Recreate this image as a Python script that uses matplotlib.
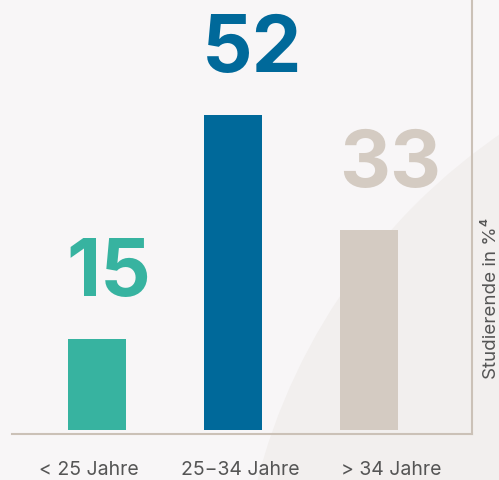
import matplotlib.pyplot as plt
from matplotlib.patches import Circle
from matplotlib.transforms import ScaledTranslation

categories = ["< 25 Jahre", "25\u221234 Jahre", "> 34 Jahre"]
values = [15, 52, 33]
value_labels = ["15", "52", "33"]
bar_colors = ["#37b3a0", "#00699a", "#d4cbc2"]
axis_label = "Studierende in %\u2074"

plt.rcParams["font.family"] = ["Inter", "DejaVu Sans"]

fig = plt.figure(figsize=(4.99, 4.81), dpi=100, facecolor="#f8f6f7")

# soft background arc in the lower right
fig.add_artist(
    Circle(
        (8.42, -1.52),
        6.04,
        transform=fig.dpi_scale_trans,
        facecolor="#f2efee",
        edgecolor="none",
        zorder=0,
    )
)

ax = fig.add_axes([0.024, 0.0956, 0.9218, 0.9044])
ax.set_facecolor("none")

x = range(len(values))

ax.bar(
    x,
    values,
    width=0.4265,
    color=bar_colors,
    zorder=2,
)

# the big numbers sit a little to the right of their bars
for xi, v, lab, c, dx in zip(x, values, value_labels, bar_colors, [12, 19, 21]):
    ax.annotate(
        lab,
        xy=(xi, v),
        xytext=(dx, 44),
        textcoords="offset pixels",
        ha="center",
        va="baseline",
        fontsize=57,
        fontweight="bold",
        color=c,
    )

ax.set_xlim(-0.625, 2.757)
ax.set_ylim(-0.66, 71.15)

ax.set_xticks(list(x))
ax.set_xticklabels(categories, fontsize=14, color="#555555")
ax.tick_params(axis="x", length=0, pad=18.5)
ax.set_yticks([])

# labels sit slightly spread out relative to the bars
for lab, dx in zip(ax.get_xticklabels(), [-8, 7, 22]):
    lab.set_transform(
        lab.get_transform() + ScaledTranslation(dx / 100, 0, fig.dpi_scale_trans)
    )

for side in ["left", "top"]:
    ax.spines[side].set_visible(False)
for side in ["bottom", "right"]:
    ax.spines[side].set_color("#cbc1b7")
    ax.spines[side].set_linewidth(1.5)

fig.text(
    0.985,
    1 - 218 / 481,
    axis_label,
    rotation=90,
    ha="center",
    va="top",
    fontsize=13.5,
    color="#555555",
)

fig.savefig("out.png", dpi=100, facecolor=fig.get_facecolor())
